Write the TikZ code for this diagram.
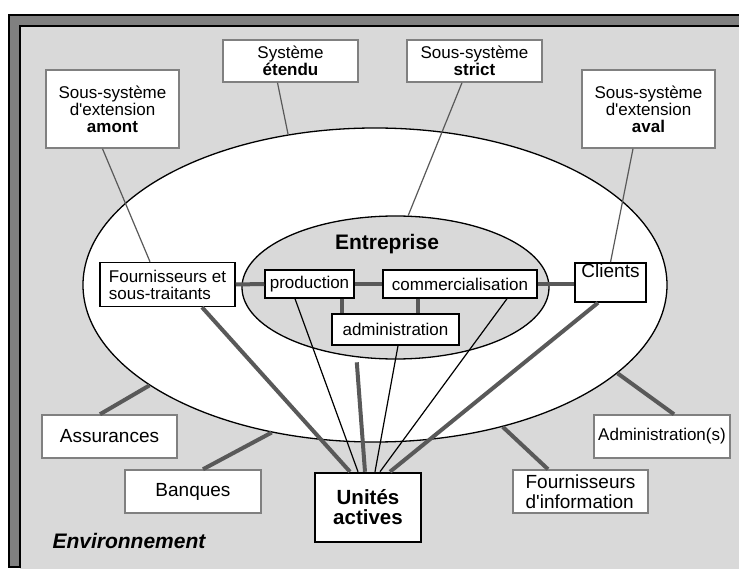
\documentclass[tikz,border=0pt]{standalone}
\usepackage{fontspec}
\setmainfont{Liberation Sans}
\usetikzlibrary{shapes.geometric}
\definecolor{envgray}{HTML}{D9D9D9}
\definecolor{framegray}{HTML}{808080}
\definecolor{linkgray}{HTML}{595959}

\begin{document}
\begin{tikzpicture}[x=1pt, y=-1pt, font=\fontsize{17}{17}\selectfont,
    graybox/.style={draw=framegray, fill=white, line width=1.5pt, inner sep=2pt},
    blackbox/.style={draw=black, fill=white, line width=1.5pt, inner sep=2pt},
    big/.style={font=\fontsize{19}{20}\selectfont},
    link/.style={linkgray, line width=4pt},
    thin link/.style={linkgray, line width=1.2pt},
    fine link/.style={black, line width=1.2pt}]
  \useasboundingbox (0,0) rectangle (739,569);
  % fond et cadre
  \fill[envgray] (20,26) rectangle (739,569);
  \filldraw[fill=framegray, line width=1.2pt] (9,567) -- (9,15) -- (745,15) -- (745,26) -- (20,26) -- (20,567) -- cycle;

  % systeme etendu et entreprise
  \node[ellipse, draw, fill=white, line width=1.3pt, minimum width=584pt, minimum height=314pt, inner sep=0pt] (sys) at (375,285) {};
  \node[ellipse, draw, fill=envgray, line width=1.3pt, minimum width=307pt, minimum height=143pt, inner sep=0pt] (ent) at (395.5,287.5) {};
  \node[anchor=base, font=\fontsize{21}{22}\selectfont\bfseries] (enttitle) at (387,250) {Entreprise};

  % sous-systemes
  \node[graybox, minimum width=135pt, minimum height=42pt, align=center] (etendu) at (290.5,61) {Système\\\textbf{étendu}};
  \node[graybox, minimum width=135pt, minimum height=42pt, align=center] (strict) at (474.5,61) {Sous-système\\\textbf{strict}};
  \node[graybox, minimum width=133pt, minimum height=78pt, align=center] (amont) at (112.5,109) {Sous-système\\d\textquotesingle extension\\\textbf{amont}};
  \node[graybox, minimum width=133pt, minimum height=78pt, align=center] (aval) at (648.5,109) {Sous-système\\d\textquotesingle extension\\\textbf{aval}};

  % acteurs
  \node[blackbox, minimum width=135pt, minimum height=44pt, align=left] (fourn) at (167.5,284.5) {Fournisseurs et\\sous-traitants};
  \node[blackbox, minimum width=89pt, minimum height=28pt] (prod) at (309.5,284) {production};
  \node[blackbox, minimum width=154pt, minimum height=28pt] (comm) at (460,284) {commercialisation};
  \node[blackbox, minimum width=127pt, minimum height=31pt] (admin) at (395.5,329.5) {administration};
  \node[blackbox, big, minimum width=71pt, text height=14pt, text depth=24pt, inner ysep=0.5pt] (clients) at (610.5,282.5) {Clients};
  \node[blackbox, line width=2.5pt, minimum width=106pt, minimum height=69pt, align=center, font=\fontsize{20.5}{20}\selectfont\bfseries] (unites) at (368,507.5) {Unités\\actives};

  % environnement
  \node[graybox, big, minimum width=135pt, minimum height=43pt] (assur) at (109.5,436.5) {Assurances};
  \node[graybox, big, minimum width=136pt, minimum height=43pt] (banques) at (193,491.5) {Banques};
  \node[graybox, big, minimum width=135pt, minimum height=43pt, align=left] (finfo) at (580.5,491.5) {Fournisseurs\\d\textquotesingle information};
  \node[graybox, minimum width=136pt, minimum height=43pt] (adms) at (662,436.5) {Administration(s)};
  \node[anchor=base west, font=\fontsize{21}{22}\selectfont\bfseries\itshape] (env) at (49,548) {Environnement};

  % liens
  \draw[thin link] ([xshift=-13pt]etendu.south) -- (sys.120);
  \draw[thin link] ([xshift=-10pt]amont.south) -- ([xshift=-17.5pt]fourn.north);
  \draw[thin link] ([xshift=-12.5pt]strict.south) -- (ent.80);
  \draw[thin link] ([xshift=-15.5pt]aval.south) -- (clients.north);

  \draw[link] (fourn.east) -- (prod.west);
  \draw[link] (prod.east) -- (comm.west);
  \draw[link] (comm.east) -- (comm.east -| clients.west);
  \draw[link] ([xshift=32.5pt]prod.south) -- ([xshift=32.5pt]prod.south |- admin.north);
  \draw[link] ([xshift=-42pt]comm.south) -- ([xshift=-42pt]comm.south |- admin.north);

  \draw[link] ([xshift=34.5pt]fourn.south) -- ([xshift=-18pt]unites.north);
  \draw[link] ([yshift=-5pt]ent.241) -- ([xshift=-3pt]unites.north);
  \draw[link] ([xshift=-12.5pt]clients.south) -- ([xshift=22pt]unites.north);
  \draw[fine link] ([xshift=-14.5pt]prod.south) -- ([xshift=-10pt]unites.north);
  \draw[fine link] ([xshift=2.5pt]admin.south) -- ([xshift=7pt]unites.north);
  \draw[fine link] ([xshift=47pt]comm.south) -- ([xshift=12pt]unites.north);

  \draw[link] ([xshift=-9.5pt]assur.north) -- (sys.204);
  \draw[link] ([xshift=10pt]banques.north) -- (sys.235);
  \draw[link] ([xshift=-32.5pt]finfo.north) -- (sys.312);
  \draw[link] ([xshift=12pt]adms.north) -- (sys.340);
\end{tikzpicture}
\end{document}
